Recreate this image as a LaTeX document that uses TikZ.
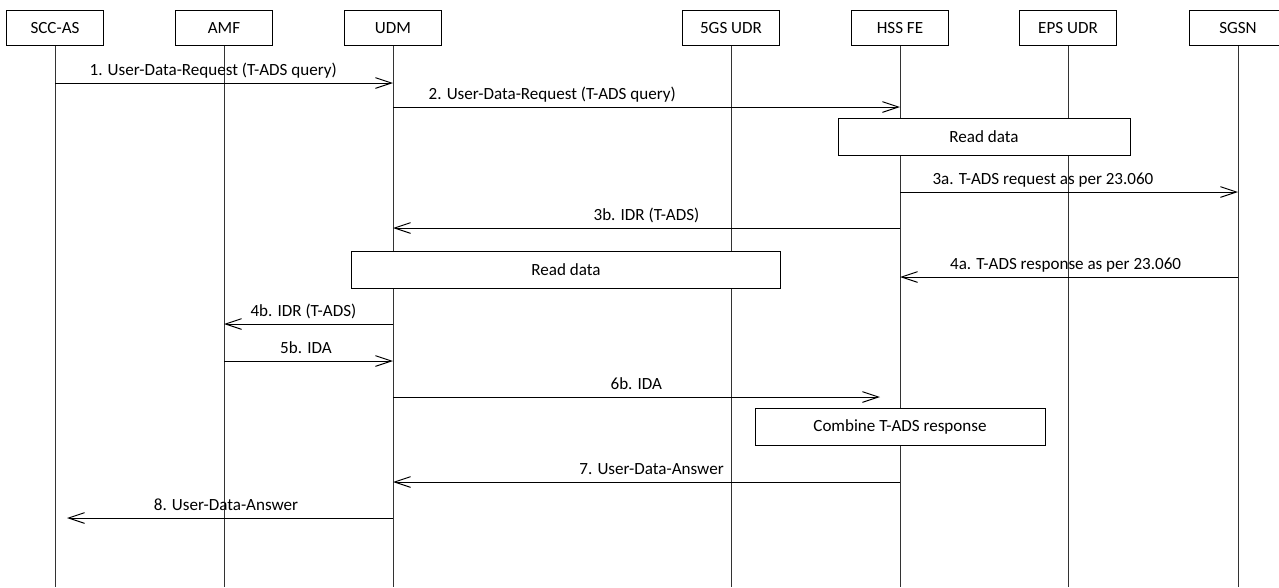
\documentclass[tikz,border=0pt]{standalone}
\usepackage{fontspec}
\setmainfont{Carlito}
\usetikzlibrary{arrows.meta}
\begin{document}
\begin{tikzpicture}
	[x=0.75pt,y=-0.75pt,
	ent/.style={draw,line width=0.75pt,fill=white,minimum width=72.75pt,minimum height=26.25pt,inner sep=0pt,font=\fontsize{12.8}{15}\selectfont},
	act/.style={draw,line width=0.75pt,fill=white,minimum height=27.75pt,inner sep=0pt,font=\fontsize{12.8}{15}\selectfont},
	life/.style={draw=black!80,line width=0.75pt},
	msg/.style={->,line width=0.75pt},
	lbl/.style={anchor=base,yshift=6pt,inner sep=0pt,font=\fontsize{12.8}{15}\selectfont},
	>={Straight Barb[length=12pt,width=8pt]}]
	\useasboundingbox (0,0) rectangle (1279,587);
	% lifelines
	\coordinate (scc-end) at (55,587);
	\coordinate (amf-end) at (224,587);
	\coordinate (udm-end) at (393,587);
	\coordinate (udr5-end) at (731,587);
	\coordinate (hss-end) at (900,587);
	\coordinate (udre-end) at (1068,587);
	\coordinate (sgsn-end) at (1238,587);
	\node[ent,name=scc] at (55,28) {SCC-AS};
	\node[ent,name=amf] at (224,28) {AMF};
	\node[ent,name=udm] at (393,28) {UDM};
	\node[ent,name=udr5] at (731,28) {5GS UDR};
	\node[ent,name=hss] at (900,28) {HSS FE};
	\node[ent,name=udre] at (1068,28) {EPS UDR};
	\node[ent,name=sgsn] at (1238,28) {SGSN};
	\draw[life](scc)--(scc-end);
	\draw[life](amf)--(amf-end);
	\draw[life](udm)--(udm-end);
	\draw[life](udr5)--(udr5-end);
	\draw[life](hss)--(hss-end);
	\draw[life](udre)--(udre-end);
	\draw[life](sgsn)--(sgsn-end);
	% message rows
	\coordinate (r1) at (0,83);
	\coordinate (r2) at (0,107);
	\coordinate (r3a) at (0,192);
	\coordinate (r3b) at (0,228);
	\coordinate (r4a) at (0,277);
	\coordinate (r4b) at (0,324);
	\coordinate (r5b) at (0,361);
	\coordinate (r6b) at (0,397);
	\coordinate (r7) at (0,482);
	\coordinate (r8) at (0,518);
	\draw[msg](scc|-r1)--(udm|-r1) node[lbl,pos=0.468]{1. User-Data-Request (T-ADS query)};
	\draw[msg](udm|-r2)--(hss|-r2) node[lbl,pos=0.314]{2. User-Data-Request (T-ADS query)};
	\node[act,name=read1,minimum width=219pt] at (984,137) {Read data};
	\draw[msg](hss|-r3a)--(sgsn|-r3a) node[lbl,pos=0.423]{3a. T-ADS request as per 23.060};
	\draw[msg](hss|-r3b)--(udm|-r3b) node[lbl,pos=0.5]{3b. IDR (T-ADS)};
	\node[act,name=read2,minimum width=321.75pt] at (566,270) {Read data};
	\draw[msg](sgsn|-r4a)--(hss|-r4a) node[lbl,pos=0.51]{4a. T-ADS response as per 23.060};
	\draw[msg](udm|-r4b)--(amf|-r4b) node[lbl,pos=0.53]{4b. IDR (T-ADS)};
	\draw[msg](amf|-r5b)--(udm|-r5b) node[lbl,pos=0.485]{5b. IDA};
	\draw[msg,shorten >=15pt](udm|-r6b)--(hss|-r6b) node[lbl,pos=0.48]{6b. IDA};
	\node[act,name=combine,minimum width=217.5pt] at (900,427) {Combine T-ADS response};
	\draw[msg](hss|-r7)--(udm|-r7) node[lbl,pos=0.49]{7. User-Data-Answer};
	\draw[msg,shorten >=9pt](udm|-r8)--(scc|-r8) node[lbl,pos=0.494]{8. User-Data-Answer};
\end{tikzpicture}
\end{document}
